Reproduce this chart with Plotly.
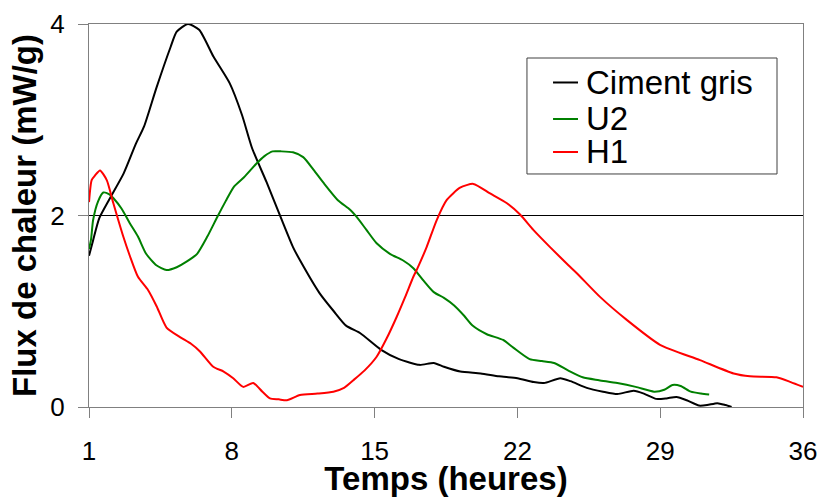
import plotly.graph_objects as go

# ---- data ----
t_ciment = [1.0, 1.2, 1.5, 2.0, 2.7, 3.3, 3.7, 4.3, 5.0, 5.3, 5.85, 6.4, 7.1, 7.9, 8.5, 9.0,
            9.7, 10.4, 11.0, 11.35, 12.3, 13.0, 13.6, 14.3, 15.3, 16.2, 17.2, 17.9, 18.4,
            19.2, 20.2, 21.1, 22.0, 22.8, 23.3, 24.1, 24.6, 25.4, 26.2, 26.9, 27.7, 28.2,
            28.8, 29.3, 29.8, 30.3, 30.9, 31.3, 31.8, 32.2, 32.5]
v_ciment = [1.58, 1.74, 1.97, 2.17, 2.44, 2.75, 2.93, 3.33, 3.76, 3.92, 4.0, 3.94, 3.66,
            3.38, 3.05, 2.70, 2.35, 1.98, 1.67, 1.53, 1.19, 1.0, 0.85, 0.77, 0.60, 0.50,
            0.44, 0.46, 0.42, 0.37, 0.35, 0.32, 0.30, 0.26, 0.25, 0.30, 0.27, 0.20, 0.16,
            0.135, 0.17, 0.14, 0.085, 0.09, 0.105, 0.07, 0.015, 0.02, 0.04, 0.02, 0.0]

t_u2 = [1.0, 1.1, 1.2, 1.45, 1.7, 2.0, 2.2, 2.6, 3.0, 3.4, 3.8, 4.3, 4.8, 5.3, 5.8, 6.3,
        6.8, 7.3, 7.7, 8.1, 8.6, 9.2, 9.6, 10.0, 10.4, 11.0, 11.5, 12.0, 12.5, 13.2, 13.8,
        14.1, 14.6, 15.1, 15.75, 16.4, 16.9, 17.4, 17.9, 18.4, 18.9, 19.4, 19.8, 20.5,
        21.3, 21.8, 22.6, 23.2, 23.8, 24.5, 25.2, 26.0, 26.9, 27.8, 28.7, 29.2, 29.6,
        30.0, 30.5, 31.0, 31.4]
v_u2 = [1.65, 1.75, 1.95, 2.15, 2.24, 2.22, 2.18, 2.07, 1.92, 1.78, 1.60, 1.48, 1.43, 1.46,
        1.52, 1.60, 1.78, 1.99, 2.15, 2.30, 2.40, 2.54, 2.62, 2.67, 2.67, 2.66, 2.61, 2.48,
        2.34, 2.16, 2.06, 1.99, 1.85, 1.71, 1.60, 1.53, 1.45, 1.32, 1.20, 1.14, 1.06, 0.95,
        0.85, 0.76, 0.70, 0.62, 0.50, 0.48, 0.46, 0.38, 0.31, 0.28, 0.25, 0.21, 0.16, 0.18,
        0.23, 0.22, 0.16, 0.14, 0.13]

t_h1 = [1.0, 1.13, 1.3, 1.54, 1.87, 2.19, 2.68, 3.0, 3.4, 3.9, 4.32, 4.8, 5.46, 6.0, 6.44,
        7.09, 7.6, 8.07, 8.56, 9.05, 9.5, 9.87, 10.3, 10.7, 11.34, 12.2, 12.98, 13.5, 13.96,
        14.5, 15.1, 15.6, 16.08, 16.5, 16.9, 17.06, 17.55, 18.04, 18.53, 19.19, 19.84,
        20.66, 21.47, 22.13, 22.78, 23.6, 24.5, 24.9, 26.05, 27.36, 28.99, 30.95, 32.6,
        33.4, 34.7, 35.4, 36.0]
v_h1 = [2.14, 2.37, 2.42, 2.47, 2.37, 2.13, 1.78, 1.58, 1.36, 1.22, 1.05, 0.83, 0.73, 0.66,
        0.58, 0.42, 0.37, 0.30, 0.21, 0.25, 0.16, 0.09, 0.08, 0.07, 0.125, 0.14, 0.16, 0.20,
        0.28, 0.38, 0.525, 0.72, 0.94, 1.15, 1.36, 1.43, 1.67, 1.95, 2.16, 2.29, 2.33, 2.23,
        2.13, 2.01, 1.85, 1.67, 1.48, 1.40, 1.15, 0.91, 0.65, 0.49, 0.35, 0.32, 0.31, 0.26,
        0.21]

series_names = ["Ciment gris", "U2", "H1"]
series_colors = ["#000000", "#008000", "#ff0000"]

x_ticks = [1, 8, 15, 22, 29, 36]
y_ticks = [0, 2, 4]
x_title = "Temps (heures)"
y_title = "Flux de chaleur (mW/g)"

FONT = "Liberation Sans, Arial, sans-serif"

fig = go.Figure()
for (tx, vy), name, col in zip([(t_ciment, v_ciment), (t_u2, v_u2), (t_h1, v_h1)],
                               series_names, series_colors):
    fig.add_trace(go.Scatter(x=tx, y=vy, mode="lines", name=name,
                             line=dict(color=col, width=2, shape="spline", smoothing=0.6),
                             showlegend=False))

# manual legend (box, line keys, text)
box = dict(x0=0.6134, x1=0.9636, y0=0.6084, y1=0.9112)
fig.add_shape(type="rect", xref="paper", yref="paper", **box,
              line=dict(color="#404040", width=1), fillcolor="white", layer="above")
legend_y = [0.8473, 0.7520, 0.6658]
for name, col, ly in zip(series_names, series_colors, legend_y):
    fig.add_shape(type="line", xref="paper", yref="paper", x0=0.6499, x1=0.6849,
                  y0=ly, y1=ly, line=dict(color=col, width=2), layer="above")
    fig.add_annotation(xref="paper", yref="paper", x=0.6933, y=ly, text=name,
                       showarrow=False, xanchor="left", yanchor="middle",
                       font=dict(family=FONT, size=33, color="black"))

axis_common = dict(showline=True, linecolor="#808080", linewidth=1, mirror=True,
                   ticks="outside", tickcolor="#808080", ticklen=10, zeroline=False,
                   automargin=False,
                   tickfont=dict(family=FONT, size=26, color="black"))

fig.update_xaxes(range=[1, 36], tickvals=x_ticks, ticktext=[str(v) for v in x_ticks],
                 showgrid=False, ticklabelstandoff=11,
                 title=dict(text="<b>" + x_title + "</b>",
                            font=dict(family=FONT, size=33, color="black"), standoff=3),
                 **axis_common)
fig.update_yaxes(range=[0, 4], tickvals=y_ticks, ticktext=[str(v) for v in y_ticks],
                 showgrid=True, gridcolor="#000000", gridwidth=1, ticklabelstandoff=8,
                 title=dict(text="<b>" + y_title + "</b>",
                            font=dict(family=FONT, size=33, color="black"), standoff=3),
                 **axis_common)

fig.update_layout(width=820, height=497, margin=dict(l=89, r=17, t=24, b=90),
                  paper_bgcolor="white", plot_bgcolor="white", showlegend=False,
                  font=dict(family=FONT))

# remove the default page margin so the 820x497 figure fills the window exactly
fig.write_html("out.html", config={"displayModeBar": False},
               post_script="document.body.style.margin='0';"
                           "document.body.style.overflow='hidden';")
